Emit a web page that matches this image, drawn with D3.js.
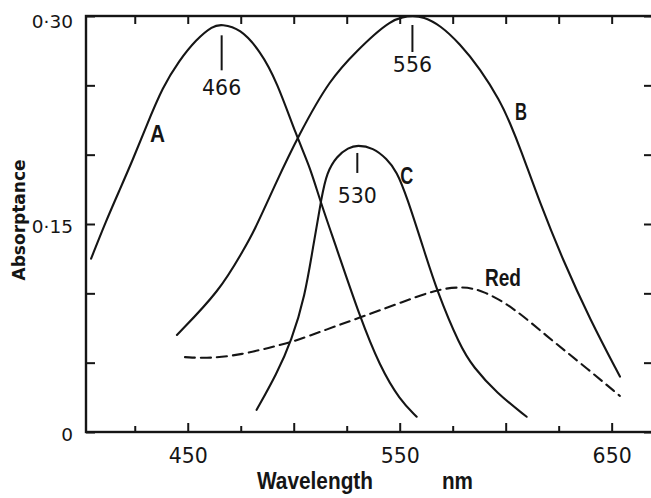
<!DOCTYPE html>
<html>
<head>
<meta charset="utf-8">
<script src="https://cdn.jsdelivr.net/npm/d3@7"></script>
<style>
  html, body { margin: 0; padding: 0; background: #fff; }
  svg { display: block; }
  .num { font-family: "DejaVu Sans", sans-serif; fill: #151515; }
  .narrow { font-family: "Liberation Sans", Arial, sans-serif; font-weight: bold; fill: #151515; }
</style>
</head>
<body>
<svg id="chart" width="651" height="498"></svg>
<script>
// Absorptance spectra of three cone pigments (A, B, C) and the "Red" filter curve
const curveA_nm  = [404.4, 411.4, 417.7, 424.0, 430.3, 438.2, 446.0, 453.9, 461.8, 466, 474.7, 484.1, 492.0, 501.4, 507.7, 512.4, 519.9, 531.2, 540.7, 550.1, 558.0];
const curveA_abs = [0.125, 0.152, 0.174, 0.196, 0.220, 0.249, 0.268, 0.283, 0.293, 0.294, 0.291, 0.275, 0.253, 0.213, 0.191, 0.167, 0.134, 0.083, 0.047, 0.023, 0.011];

const curveB_nm  = [444.9, 465.2, 476.1, 480.8, 492.0, 502.0, 517.1, 531.3, 537.5, 545.4, 551.7, 556, 561.1, 569.0, 578.4, 587.9, 597.3, 602.0, 606.8, 616.2, 627.0, 639.8, 653.9];
const curveB_abs = [0.070, 0.102, 0.131, 0.143, 0.181, 0.213, 0.255, 0.277, 0.286, 0.296, 0.2995, 0.300, 0.2995, 0.2935, 0.280, 0.262, 0.239, 0.223, 0.205, 0.165, 0.124, 0.081, 0.040];

const curveC_nm  = [482.5, 492.0, 499.0, 505.3, 509.2, 513.2, 515.6, 520.3, 525.8, 530, 537.5, 543.9, 548.6, 553.3, 561.5, 567.5, 578.4, 584.6, 595.8, 609.9];
const curveC_abs = [0.016, 0.042, 0.066, 0.098, 0.134, 0.170, 0.187, 0.199, 0.205, 0.207, 0.205, 0.197, 0.188, 0.170, 0.131, 0.102, 0.062, 0.047, 0.028, 0.011];

const red_nm  = [448.7, 460.5, 476.1, 488.8, 499.7, 515.6, 530.3, 548.3, 567.5, 579.9, 589.3, 603.5, 619.4, 635.1, 653.9];
const red_abs = [0.054, 0.053, 0.056, 0.061, 0.065, 0.074, 0.082, 0.092, 0.103, 0.105, 0.102, 0.090, 0.069, 0.050, 0.026];

// Peak wavelengths marked on the pigment curves
const peakNm  = [466, 556, 530];
const peakAbs = [0.294, 0.300, 0.207];

// Curve names and where their labels sit (data units, text baseline)
const curveNames = ["A", "B", "C", "Red"];
const labelNm    = [435.7, 607.2, 553.3, 598.7];
const labelAbs   = [0.2094, 0.2250, 0.1788, 0.1056];

// Axis ticks
const xTickValues = [425, 450, 475, 500, 525, 550, 575, 600, 625, 650];
const xTickLabels = [450, 550, 650];
const yTickValues = [0, 0.05, 0.10, 0.15, 0.20, 0.25, 0.30];
const yTickLabels = ["0", "0·15", "0·30"];
const yLabelled   = [0, 0.15, 0.30];

const svg = d3.select("#chart");
const plotLeft = 86, plotRight = 653, plotTop = 16, plotBottom = 432;

const x = d3.scaleLinear().domain([402, 669.5]).range([plotLeft, plotRight]);
const y = d3.scaleLinear().domain([0, 0.30]).range([plotBottom, plotTop]);

const ink = "#151515";

// Axes with inward ticks on all four sides
const gBottom = svg.append("g").attr("transform", `translate(0,${plotBottom})`)
  .call(d3.axisBottom(x).tickValues(xTickValues).tickSizeInner(-6).tickSizeOuter(0).tickPadding(16)
    .tickFormat(d => xTickLabels.includes(d) ? String(d) : ""));
gBottom.selectAll(".tick line").filter(d => d % 50 === 0).attr("y2", -9);

const gTop = svg.append("g").attr("transform", `translate(0,${plotTop})`)
  .call(d3.axisTop(x).tickValues(xTickValues).tickSizeInner(-8).tickSizeOuter(0).tickFormat(""));

const gLeft = svg.append("g").attr("transform", `translate(${plotLeft},0)`)
  .call(d3.axisLeft(y).tickValues(yTickValues).tickSizeInner(-9).tickSizeOuter(0).tickPadding(13)
    .tickFormat(d => {
      const i = yLabelled.findIndex(v => Math.abs(v - d) < 1e-9);
      return i >= 0 ? yTickLabels[i] : "";
    }));

const gRight = svg.append("g").attr("transform", `translate(${plotRight},0)`)
  .call(d3.axisRight(y).tickValues(yTickValues).tickSizeInner(-9).tickSizeOuter(0).tickFormat(""));

[gBottom, gTop, gLeft, gRight].forEach(g => {
  g.select(".domain").remove();
  g.selectAll(".tick line").attr("stroke", ink).attr("stroke-width", 2);
  g.selectAll(".tick text").attr("class", "num").attr("fill", ink).attr("font-family", null);
});
gBottom.selectAll(".tick text").style("font-size", "20.5px");
gLeft.selectAll(".tick text").style("font-size", "18.5px").attr("dy", "0.45em");
gLeft.selectAll(".tick text").filter(d => d === 0.30).attr("dy", "0.6em");

// Frame
svg.append("rect")
  .attr("x", plotLeft).attr("y", plotTop)
  .attr("width", plotRight - plotLeft).attr("height", plotBottom - plotTop)
  .attr("fill", "none").attr("stroke", ink).attr("stroke-width", 2.4);

// Curves (B-spline through the read-off points)
const line = d3.line()
  .x(d => x(d[0])).y(d => y(d[1]))
  .curve(d3.curveBasis);

const series = [
  { nm: curveA_nm, abs: curveA_abs, dash: null },
  { nm: curveB_nm, abs: curveB_abs, dash: null },
  { nm: curveC_nm, abs: curveC_abs, dash: null },
  { nm: red_nm,    abs: red_abs,    dash: "10,6" }
];

svg.append("g").selectAll("path")
  .data(series)
  .join("path")
  .attr("d", s => line(s.nm.map((n, i) => [n, s.abs[i]])))
  .attr("fill", "none")
  .attr("stroke", ink)
  .attr("stroke-width", 2.1)
  .attr("stroke-linecap", "round")
  .attr("stroke-dasharray", s => s.dash);

// Peak markers: short vertical bar under each maximum with its wavelength
const markerLayout = [
  { gap: 11, len: 35, base: 71 },
  { gap: 9,  len: 27, base: 56 },
  { gap: 8,  len: 20, base: 58 }
];
const gPeaks = svg.append("g");
peakNm.forEach((nm, i) => {
  const px = x(nm), py = y(peakAbs[i]), m = markerLayout[i];
  gPeaks.append("line")
    .attr("x1", px).attr("x2", px)
    .attr("y1", py + m.gap).attr("y2", py + m.gap + m.len)
    .attr("stroke", ink).attr("stroke-width", 2);
  gPeaks.append("text")
    .attr("class", "num")
    .attr("x", px).attr("y", py + m.base)
    .attr("text-anchor", "middle")
    .style("font-size", "20.5px")
    .text(String(nm));
});

// Curve names, set in a narrow bold face
const nameWidths = [15, 12, 13, 36];
svg.append("g").selectAll("text")
  .data(curveNames)
  .join("text")
  .attr("class", "narrow")
  .attr("x", (d, i) => x(labelNm[i]) - nameWidths[i] / 2)
  .attr("y", (d, i) => y(labelAbs[i]))
  .attr("textLength", (d, i) => nameWidths[i])
  .attr("lengthAdjust", "spacingAndGlyphs")
  .style("font-size", "24px")
  .text(d => d);

// Axis titles
svg.append("text")
  .attr("class", "narrow")
  .attr("x", 257).attr("y", 489)
  .attr("textLength", 116).attr("lengthAdjust", "spacingAndGlyphs")
  .style("font-size", "24px")
  .text("Wavelength");

svg.append("text")
  .attr("class", "narrow")
  .attr("x", 442).attr("y", 489)
  .attr("textLength", 31).attr("lengthAdjust", "spacingAndGlyphs")
  .style("font-size", "24px")
  .text("nm");

svg.append("text")
  .attr("class", "num")
  .attr("transform", "translate(25,220) rotate(-90)")
  .attr("text-anchor", "middle")
  .style("font-size", "17px")
  .style("font-weight", "bold")
  .text("Absorptance");
</script>
</body>
</html>
